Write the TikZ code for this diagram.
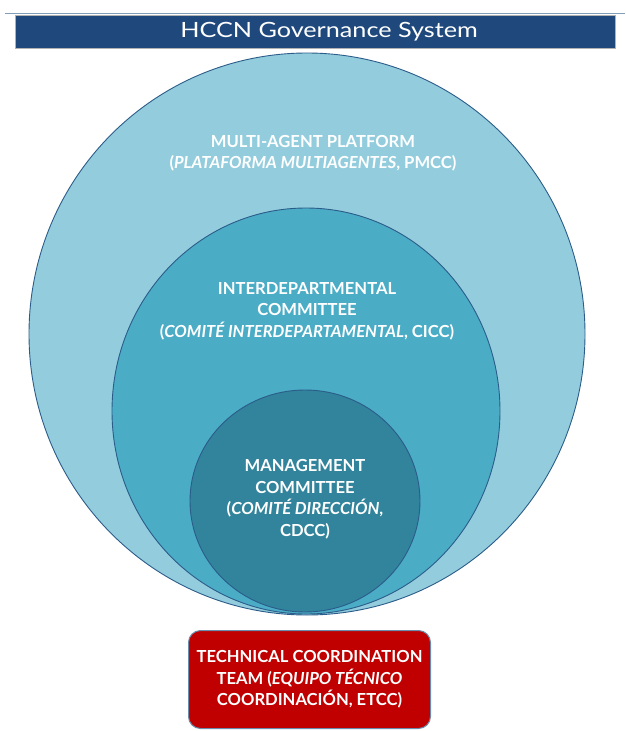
\documentclass[tikz,border=0pt]{standalone}
\usepackage{fontspec}
\setmainfont{Lato}
\newfontfamily\titlefont[FakeStretch=1.2]{Lato}
\usepackage{tikz}

\definecolor{titleblue}{HTML}{1F497D}
\definecolor{ringedge}{HTML}{2B5C8A}
\definecolor{outerfill}{HTML}{93CDDD}
\definecolor{midfill}{HTML}{4BACC6}
\definecolor{innerfill}{HTML}{31849B}
\definecolor{teamred}{HTML}{C00000}

\tikzset{
	ring/.style={draw=ringedge, line width=0.9pt},
	label/.style={text=white, font=\bfseries\fontsize{16.6}{21.5}\selectfont, align=center},
}

\begin{document}
\begin{tikzpicture}[x=1pt, y=-1pt]
		\useasboundingbox (0, 0) rectangle (625, 731);

		\draw[color=ringedge!60, line width=1pt] (5, 13) -- (625, 13);
		\node[fill=titleblue, draw=gray!60, minimum width=600pt, minimum height=33pt, inner sep=0pt, anchor=north west] at (15, 15) (title) {};
		\node[text=white, font=\titlefont\fontsize{21}{24}\selectfont] at (329, 31.5) (titletext) {HCCN Governance System};

		\draw[ring, fill=outerfill] (307, 334) ellipse (278pt and 281pt);
		\draw[ring, fill=midfill] (306, 411) ellipse (194pt and 203pt);
		\draw[ring, fill=innerfill] (305, 501) ellipse (115pt and 111pt);

		\node[label] at (313, 153) (pmcc) {MULTI-AGENT PLATFORM\\(\textit{PLATAFORMA MULTIAGENTES}, PMCC)};
		\node[label] at (307, 311) (cicc) {INTERDEPARTMENTAL\\COMMITTEE\\(\textit{COMITÉ INTERDEPARTAMENTAL}, CICC)};
		\node[label] at (305, 499) (cdcc) {MANAGEMENT\\COMMITTEE\\(\textit{COMITÉ DIRECCIÓN},\\CDCC)};

		\node[fill=teamred, draw=ringedge!70, line width=1pt, rounded corners=12pt, minimum width=242pt, minimum height=98pt, anchor=north west] at (188, 630) (etcc) {};
		\node[label] at (etcc.center) (etcctext) {TECHNICAL COORDINATION\\TEAM (\textit{EQUIPO TÉCNICO}\\COORDINACIÓN, ETCC)};
	\end{tikzpicture}
\end{document}
